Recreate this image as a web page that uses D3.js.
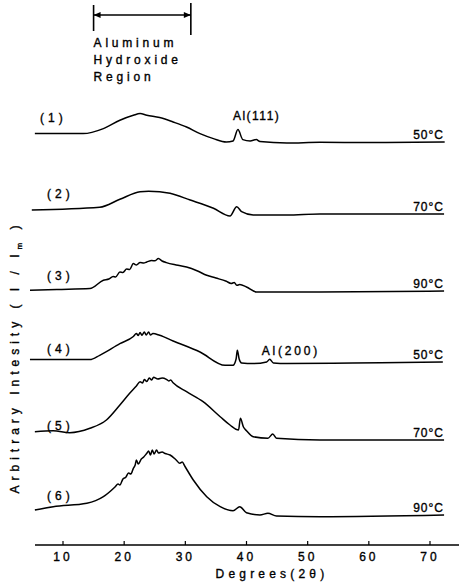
<!DOCTYPE html>
<html>
<head>
<meta charset="utf-8">
<script src="https://cdn.jsdelivr.net/npm/d3@7"></script>
<style>
  html, body { margin: 0; padding: 0; background: #fff; }
  svg text { font-family: "Liberation Sans", Arial, sans-serif; fill: #000; stroke: #000; stroke-width: 0.35; }
</style>
</head>
<body>
<svg id="chart" width="459" height="582"></svg>
<script>
// XRD patterns: [2θ (deg), intensity above each pattern's own baseline]
const pattern1 = [[5.4,8.4],[13.3,8.4],[16.6,13.4],[19.3,21.7],[21.5,26.7],[22.6,28.4],[23.7,26.7],[25.8,24.4],[28.0,20],[30.2,15],[32.4,8.4],[34.6,3.4],[36.7,0],[37.8,1],[38.6,12.4],[39.4,2.4],[40.6,1],[41.6,2.4],[42.2,0.4],[46.6,-1],[52,-0.3],[60,-0.5],[72.4,0]];
const pattern2 = [[4.9,4],[16.0,6.7],[19.3,14.7],[22.6,22.3],[24.0,22.8],[25.8,22.3],[27.5,20.7],[30.8,14],[34.6,5.7],[37.3,-2],[38.4,7.3],[39.2,2.3],[41.1,-1],[46.6,-1],[52,0],[72.3,0]];
const pattern3 = [[4.6,0.7],[9,1.5],[14.4,2.4],[16.6,10.7],[17.5,12],[18.2,14.5],[18.6,14],[19.3,19],[19.8,18.5],[20.4,22],[20.9,21.5],[21.5,27.4],[22,26],[22.6,28.5],[23.2,28],[23.7,29],[24.5,30.5],[25.0,30.2],[25.6,32.4],[26.2,30],[26.9,28.4],[28.5,26],[30.2,24],[32,20],[33.5,15.7],[35,13],[36.7,9.7],[37.5,7.5],[38.0,8.5],[38.4,5.7],[38.9,6.4],[40.0,4],[41.6,-1],[52,-1],[72.3,0]];
const pattern4 = [[4.6,2.4],[14.4,2.4],[16.0,6.7],[19.3,18.4],[21.5,25.5],[22.0,28.5],[22.3,26.5],[22.6,29.5],[22.9,26.8],[23.3,30],[23.6,27],[24.0,30],[24.3,27],[24.7,28.5],[25.8,26.7],[28.0,21],[32.4,10],[36.5,-3.3],[37.8,-3.3],[38.3,3],[38.5,11.7],[38.8,3],[39.2,-1],[41.1,-1.6],[43.3,0],[43.8,2.7],[44.4,-1],[46.6,-1.6],[57.4,-1],[72.1,0]];
const pattern5 = [[5.4,8.3],[8.4,9.3],[11.1,7.3],[14.4,11.7],[17.1,20],[19.3,35],[20.9,46.7],[22.0,54],[22.6,58.3],[23.0,57],[23.3,60.5],[23.7,58.5],[24.1,62],[24.5,60],[24.8,62.7],[25.5,61],[26.2,62],[26.9,60.7],[27.3,59],[27.6,60],[28.0,57.3],[30.2,48.3],[32.9,38.3],[35.7,23.3],[37.3,15],[38.7,10],[39.0,21.7],[39.5,13],[40.0,9.3],[41.1,3.3],[43.5,1.7],[44.3,6],[44.9,1.7],[52,0],[72.3,0]];
const pattern6 = [[5.4,5],[8.4,8.3],[13.9,11.7],[16.6,18.3],[18.5,28],[19.0,31],[19.3,30],[19.8,36],[20.3,38],[20.7,42],[21.1,41],[21.5,46.7],[21.8,50],[22.0,55],[22.3,51],[22.8,56],[23.2,58],[23.7,61.7],[24.0,64],[24.3,60],[24.6,65],[24.9,61],[25.3,65],[25.6,62],[26.2,63],[26.7,61.5],[27.5,60],[28.5,55],[29.1,51.7],[29.5,53],[29.9,49],[31.3,35],[33.5,18.3],[35.7,8.3],[37.8,4.3],[38.9,8.3],[40.0,2.3],[42.2,0],[43.5,1.7],[44.9,-1],[52,-1.7],[72.3,0]];

const patterns = [pattern1, pattern2, pattern3, pattern4, pattern5, pattern6];
// vertical stacking offset of each pattern (arbitrary units)
const offsets = [405, 333, 256, 185, 107, 32];
const sampleLabels = ["(1)", "(2)", "(3)", "(4)", "(5)", "(6)"];
const tempLabels = ["50°C", "70°C", "90°C", "50°C", "70°C", "90°C"];
const xTicks = [10, 20, 30, 40, 50, 60, 70];
const hydroxideRegion = [15.0, 30.9];
const peakNotes = [
  { pattern: 0, theta: 38.6, text: "Al(111)" },
  { pattern: 3, theta: 43.8, text: "Al(200)" }
];

const svg = d3.select("#chart");
const x = d3.scaleLinear().domain([10, 70]).range([63, 430]);
const y = d3.scaleLinear().domain([0, 450]).range([547, 97]);

// x axis: baseline with short upward ticks
const axisY = 545;
svg.append("line")
  .attr("x1", 35).attr("x2", 459).attr("y1", axisY).attr("y2", axisY)
  .attr("stroke", "#000").attr("stroke-width", 1.4);
svg.selectAll(".xtick").data(xTicks).join("line")
  .attr("x1", d => x(d)).attr("x2", d => x(d))
  .attr("y1", axisY).attr("y2", axisY - 4)
  .attr("stroke", "#000").attr("stroke-width", 1.2);
svg.selectAll(".xlab").data(xTicks).join("text")
  .attr("x", d => x(d)).attr("y", 561)
  .attr("text-anchor", "middle").attr("font-size", 12).attr("letter-spacing", 3)
  .text(d => d);
svg.append("text")
  .attr("x", 272).attr("y", 578).attr("text-anchor", "middle")
  .attr("font-size", 12).attr("letter-spacing", 4.2)
  .text("Degrees(2θ)");

// y axis title
const yt = svg.append("text")
  .attr("transform", "translate(19,357) rotate(-90)")
  .attr("text-anchor", "middle").attr("font-size", 12).attr("letter-spacing", 5);
yt.append("tspan").text("Arbitrary  Intesity  ( I / I");
yt.append("tspan").attr("font-size", 8).attr("dy", 3).text("m");
yt.append("tspan").attr("dy", -3).text(" )");

// stacked patterns
const line = d3.line()
  .x(d => x(d[0]))
  .y(d => y(d[1]))
  .curve(d3.curveMonotoneX);
patterns.forEach((p, i) => {
  const pts = p.map(d => [d[0], d[1] + offsets[i]]);
  svg.append("path").datum(pts)
    .attr("d", line)
    .attr("fill", "none").attr("stroke", "#000")
    .attr("stroke-width", 1.5).attr("stroke-linejoin", "round");
});

// sample numbers on the left and temperatures on the right
const labelRise = [20, 16, 11, 9, 10, 15];
svg.selectAll(".snum").data(sampleLabels).join("text")
  .attr("x", (d, i) => i === 0 ? 40 : 47)
  .attr("y", (d, i) => y(offsets[i] + labelRise[i]))
  .attr("font-size", 12).attr("letter-spacing", 4)
  .text(d => d);
svg.selectAll(".temp").data(tempLabels).join("text")
  .attr("x", 444)
  .attr("y", (d, i) => y(offsets[i] + 3))
  .attr("text-anchor", "end").attr("font-size", 12).attr("letter-spacing", 1)
  .text(d => d);

// peak annotations
svg.selectAll(".peak").data(peakNotes).join("text")
  .attr("x", d => x(d.theta) - (d.pattern === 0 ? 5 : 8))
  .attr("y", d => y(offsets[d.pattern] + (d.pattern === 0 ? 22 : 7)))
  .attr("font-size", 12).attr("letter-spacing", d => d.pattern === 0 ? 1.5 : 2.8)
  .text(d => d.text);

// aluminum hydroxide region bracket
const rx0 = x(hydroxideRegion[0]), rx1 = x(hydroxideRegion[1]);
svg.append("line").attr("x1", rx0).attr("x2", rx0).attr("y1", 5).attr("y2", 31)
  .attr("stroke", "#000").attr("stroke-width", 1.6);
svg.append("line").attr("x1", rx1).attr("x2", rx1).attr("y1", 3).attr("y2", 35)
  .attr("stroke", "#000").attr("stroke-width", 1.6);
svg.append("line").attr("x1", rx0).attr("x2", rx1).attr("y1", 15).attr("y2", 15)
  .attr("stroke", "#000").attr("stroke-width", 1.4);
svg.append("path")
  .attr("d", `M${rx0},15 L${rx0 + 7},12 L${rx0 + 7},18 Z M${rx1},15 L${rx1 - 7},12 L${rx1 - 7},18 Z`)
  .attr("fill", "#000");
const regionLines = ["Aluminum", "Hydroxide", "Region"];
svg.selectAll(".reg").data(regionLines).join("text")
  .attr("x", rx0).attr("y", (d, i) => 47 + i * 17)
  .attr("font-size", 12).attr("letter-spacing", 3.8)
  .text(d => d);
</script>
</body>
</html>
